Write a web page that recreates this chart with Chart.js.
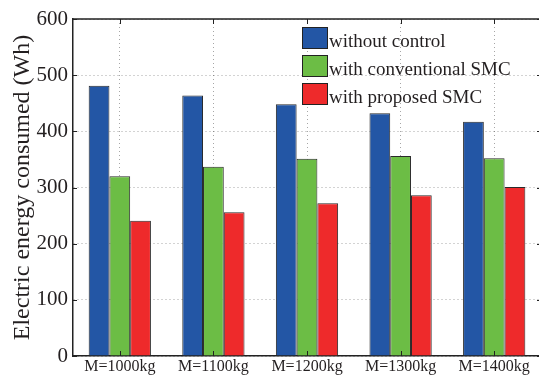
<!DOCTYPE html>
<html>
<head>
<meta charset="utf-8">
<script src="https://cdn.jsdelivr.net/npm/chart.js@4/dist/chart.umd.min.js"></script>
<style>
  html, body { margin: 0; padding: 0; width: 539px; height: 375px; overflow: hidden; background: #fff; }
  #wrap { position: relative; width: 548px; height: 378px; }
</style>
</head>
<body>
<div id="wrap"><canvas id="energy-bar-chart"></canvas></div>
<script>
const categories = ["M=1000kg", "M=1100kg", "M=1200kg", "M=1300kg", "M=1400kg"];
const series_names = ["without control", "with conventional SMC", "with proposed SMC"];
const without_control = [481, 464, 448, 432, 417];
const conventional_smc = [320, 337, 351, 356, 352];
const proposed_smc = [241, 256, 272, 286, 301];
const y_ticks = [0, 100, 200, 300, 400, 500, 600];

const colors = ["#2356a5", "#6cbd45", "#ee2a2b"];
const serif = "Liberation Serif";

// legend in the upper part of the plot + inward tick marks + top border
const boxPlugin = {
  id: "boxPlugin",
  afterDraw(chart) {
    const ctx = chart.ctx;
    const area = chart.chartArea;
    const xs = chart.scales.x, ys = chart.scales.y;
    ctx.save();
    ctx.strokeStyle = "#222";
    ctx.lineWidth = 1.5;
    ctx.beginPath();
    ctx.moveTo(area.left, area.top);
    ctx.lineTo(area.right, area.top);
    ctx.lineTo(area.right, area.bottom);
    ctx.stroke();
    ctx.lineWidth = 1;
    ys.ticks.forEach((t, i) => {
      const y = Math.round(ys.getPixelForTick(i)) + 0.5;
      ctx.beginPath();
      ctx.moveTo(area.left, y); ctx.lineTo(area.left + 4, y);
      ctx.moveTo(area.right, y); ctx.lineTo(area.right - 4, y);
      ctx.stroke();
    });
    xs.ticks.forEach((t, i) => {
      const x = Math.round(xs.getPixelForTick(i)) + 0.5;
      ctx.beginPath();
      ctx.moveTo(x, area.top); ctx.lineTo(x, area.top + 5);
      ctx.moveTo(x, area.bottom); ctx.lineTo(x, area.bottom - 5);
      ctx.stroke();
    });

    // legend
    ctx.font = "19px '" + serif + "'";
    ctx.textBaseline = "alphabetic";
    ctx.textAlign = "left";
    chart.data.datasets.forEach((ds, i) => {
      const bx = 302, by = 27 + i * 28;
      ctx.fillStyle = ds.backgroundColor;
      ctx.fillRect(bx, by, 25, 21);
      ctx.strokeStyle = "#222";
      ctx.strokeRect(bx + 0.5, by + 0.5, 25, 21);
      ctx.fillStyle = "#231f20";
      ctx.fillText(ds.label, 329, by + 20);
    });
    ctx.restore();
  }
};

function drawChart() {
  const bar_ctx = document.getElementById("energy-bar-chart").getContext("2d");

  new Chart(bar_ctx, {
    type: "bar",
    data: {
      labels: categories,
      datasets: [
        { label: series_names[0], data: without_control, backgroundColor: colors[0] },
        { label: series_names[1], data: conventional_smc, backgroundColor: colors[1] },
        { label: series_names[2], data: proposed_smc, backgroundColor: colors[2] }
      ].map(d => Object.assign(d, { borderColor: "#2a2a2a", borderWidth: 1, borderSkipped: "bottom" }))
    },
    options: {
      responsive: true,
      maintainAspectRatio: false,
      animation: false,
      layout: { padding: { top: 19, right: 7, bottom: 0, left: 0 } },
      datasets: { bar: { categoryPercentage: 0.665, barPercentage: 1.0 } },
      plugins: { legend: { display: false }, tooltip: { enabled: false } },
      scales: {
        x: {
          offset: true,
          grid: { offset: false, color: "rgba(0,0,0,0.35)", drawTicks: false },
          border: { color: "#222", width: 1.5, dash: [1, 3] },
          ticks: { font: { family: serif, size: 16 }, color: "#231f20", padding: 1, maxRotation: 0 },
          afterFit(scale) { scale.height = 22; }
        },
        y: {
          min: 0,
          max: 600,
          afterBuildTicks(scale) { scale.ticks = y_ticks.map(v => ({ value: v })); },
          grid: { color: "rgba(0,0,0,0.35)", drawTicks: false },
          border: { color: "#222", width: 1.5, dash: [1, 3] },
          ticks: { font: { family: serif, size: 21 }, color: "#231f20", padding: 5 },
          title: {
            display: true,
            text: "Electric energy consumed (Wh)",
            font: { family: serif, size: 24 },
            color: "#231f20",
            padding: { top: 8, bottom: 0 }
          },
          afterFit(scale) { scale.width = 73; }
        }
      }
    },
    plugins: [boxPlugin]
  });
}

document.fonts.load("20px '" + serif + "'").then(drawChart, drawChart);
</script>
</body>
</html>
